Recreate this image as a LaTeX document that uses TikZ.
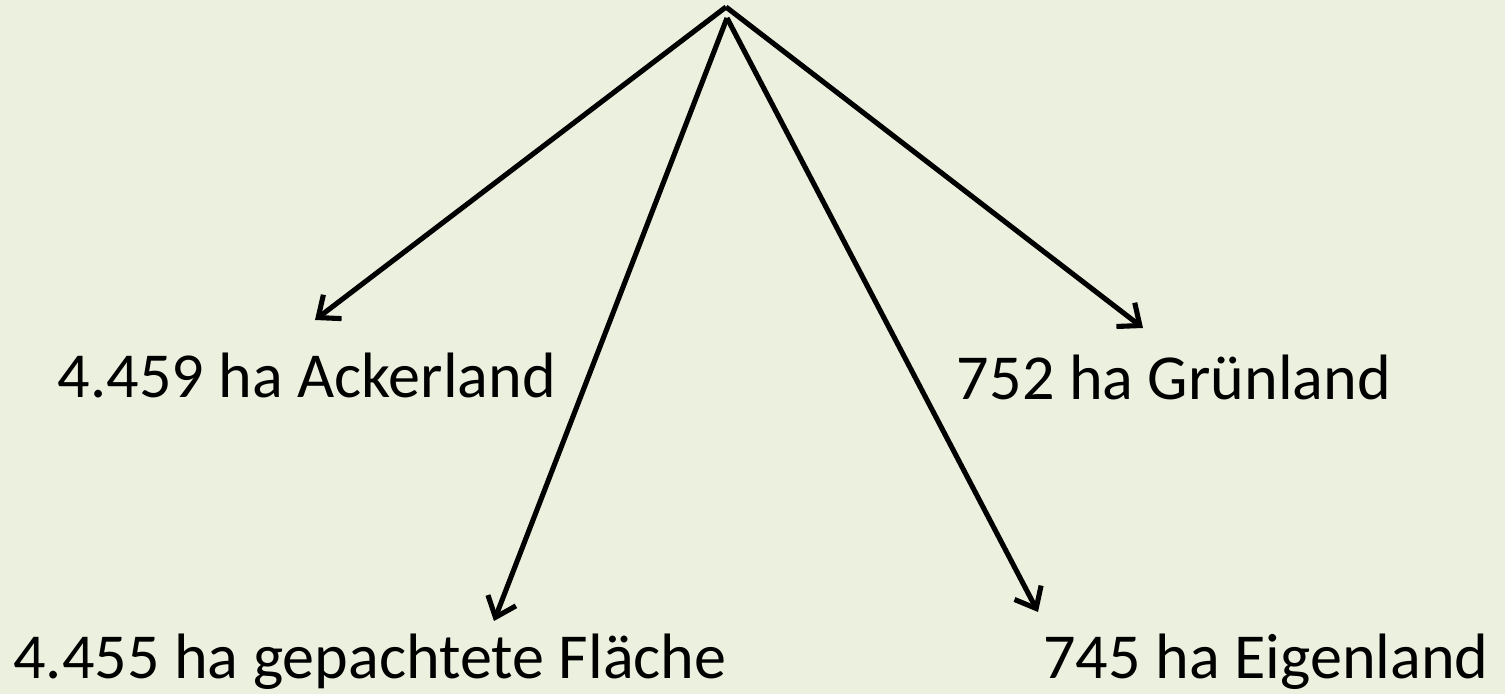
\documentclass[tikz,border=0pt]{standalone}
\usepackage{fontspec}
\setmainfont{Carlito}
\usetikzlibrary{arrows.meta}
\definecolor{bgGreen}{HTML}{EBF1DE}
\tikzset{
  label/.style={anchor=base, inner sep=0pt, font=\fontsize{36.5}{44}\selectfont},
  link/.style={line width=2.9pt, -{Straight Barb[length=0.36cm,width=0.6cm]}}
}
\begin{document}
\begin{tikzpicture}
    \fill[bgGreen] (0,0) rectangle (30.1,13.88);
    \useasboundingbox (0,0) rectangle (30.1,13.88);

    \coordinate (T) at (14.52,13.74);
    \coordinate (T2) at (14.54,13.52);

    \node[label] (A) at (6.14,5.92) {4.459 ha Ackerland};
    \node[label] (G) at (23.48,5.88) {752 ha Grünland};
    \node[label] (P) at (7.40,0.31) {4.455 ha gepachtete Fläche};
    \node[label] (E) at (25.32,0.31) {745 ha Eigenland};

    \coordinate (Atip) at (6.30,7.48);
    \coordinate (Gtip) at (22.86,7.32);
    \coordinate (Ptip) at (9.88,1.46);
    \coordinate (Etip) at (20.76,1.64);

    \draw[link] (T) -- (Atip);
    \draw[link] (T) -- (Gtip);
    \draw[link] (T2) -- (Ptip);
    \draw[link] (T2) -- (Etip);
  \end{tikzpicture}
\end{document}
